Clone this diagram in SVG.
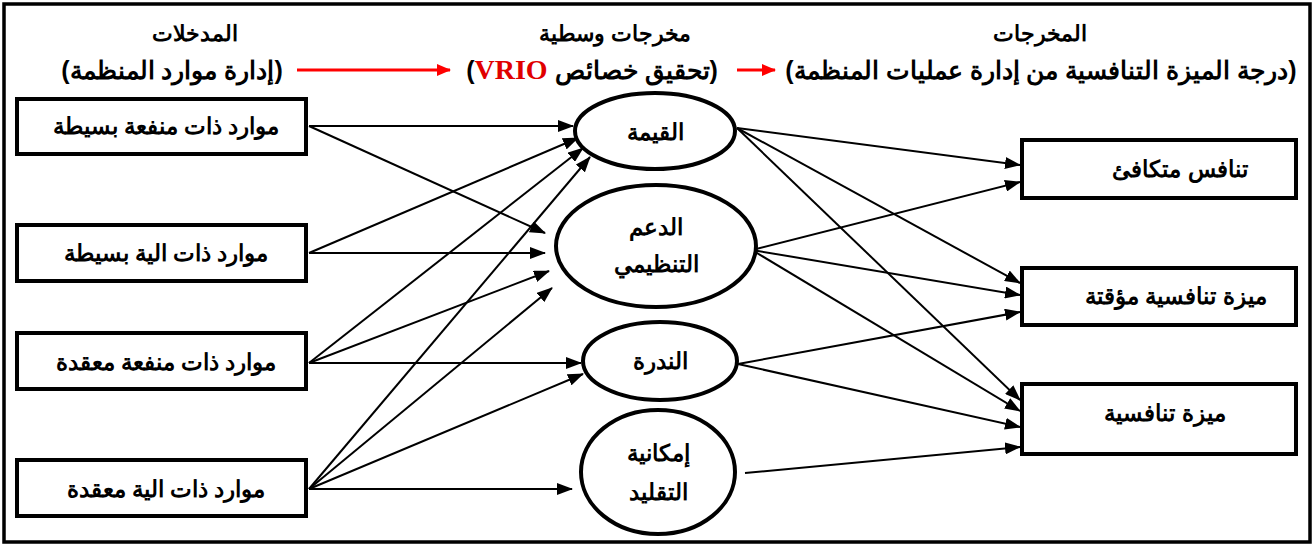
<svg xmlns="http://www.w3.org/2000/svg" width="1314" height="546" viewBox="0 0 1314 546">
<defs>
<style>
.frame{fill:#fff;stroke:#000;stroke-width:3.5}
.box{fill:#fff;stroke:#000;stroke-width:4}
.ell{fill:#fff;stroke:#000;stroke-width:4}
.t{font-family:"Liberation Sans",Arial,sans-serif;font-weight:bold;font-size:22.5px;fill:#000;text-anchor:middle;direction:rtl}
.h1{font-size:22px}
.h2{font-size:25px}
.vrio{font-family:"Liberation Serif","Times New Roman",serif;font-weight:bold;font-size:28px;fill:#e00000}
.c line{stroke:#000;stroke-width:2;marker-end:url(#ah)}
.r line{stroke:#f00;stroke-width:3;marker-end:url(#rh)}
</style>
<marker id="ah" markerUnits="userSpaceOnUse" markerWidth="16" markerHeight="12" refX="15" refY="6" orient="auto"><path d="M0,0 L16,6 L0,12 z" fill="#000"/></marker>
<marker id="rh" markerUnits="userSpaceOnUse" markerWidth="14" markerHeight="12" refX="13" refY="6" orient="auto"><path d="M0,0 L14,6 L0,12 z" fill="#f00"/></marker>
</defs>
<rect class="frame" x="4" y="4" width="1306" height="538"/>

<g id="headers">
<text class="t h1" x="195" y="41">المدخلات</text>
<text class="t h1" x="615" y="41">مخرجات وسطية</text>
<text class="t h1" x="1040" y="41">المخرجات</text>
<text class="t h2" x="172" y="79">(إدارة موارد المنظمة)</text>
<text class="t h2" x="592" y="79">(تحقيق خصائص <tspan class="vrio">VRIO</tspan>)</text>
<text class="t h2" x="1041" y="79">(درجة الميزة التنافسية من إدارة عمليات المنظمة)</text>
</g>
<g class="r" id="header-arrows">
<line x1="297" y1="70" x2="450" y2="70"/>
<line x1="737" y1="70" x2="775" y2="70"/>
</g>

<g class="c" id="connectors">
<line x1="309" y1="126" x2="573" y2="126"/>
<line x1="309" y1="126" x2="545" y2="233"/>
<line x1="309" y1="253" x2="578" y2="138"/>
<line x1="309" y1="253" x2="545" y2="253"/>
<line x1="309" y1="363" x2="583" y2="148"/>
<line x1="309" y1="363" x2="549" y2="271"/>
<line x1="309" y1="363" x2="581" y2="363"/>
<line x1="309" y1="489" x2="590" y2="157"/>
<line x1="309" y1="489" x2="552" y2="288"/>
<line x1="309" y1="489" x2="583" y2="374"/>
<line x1="309" y1="489" x2="572" y2="489"/>
<line x1="737" y1="128" x2="1020" y2="165"/>
<line x1="737" y1="128" x2="1020" y2="283"/>
<line x1="737" y1="128" x2="1020" y2="400"/>
<line x1="752" y1="250" x2="1020" y2="182"/>
<line x1="752" y1="250" x2="1020" y2="295"/>
<line x1="752" y1="250" x2="1020" y2="411"/>
<line x1="738" y1="364" x2="1020" y2="312"/>
<line x1="738" y1="364" x2="1020" y2="427"/>
<line x1="745" y1="473" x2="1020" y2="447"/>
</g>

<g id="in1"><rect class="box" x="17" y="99" width="289" height="55"/><text class="t" x="166" y="134">موارد ذات منفعة بسيطة</text></g>
<g id="in2"><rect class="box" x="17" y="225" width="289" height="56"/><text class="t" x="166" y="261">موارد ذات الية بسيطة</text></g>
<g id="in3"><rect class="box" x="17" y="333" width="289" height="56"/><text class="t" x="166" y="370">موارد ذات منفعة معقدة</text></g>
<g id="in4"><rect class="box" x="17" y="460" width="289" height="56"/><text class="t" x="166" y="497">موارد ذات الية معقدة</text></g>

<g id="value"><ellipse class="ell" cx="655" cy="131" rx="80" ry="38"/><text class="t" x="655" y="140">القيمة</text></g>
<g id="support"><ellipse class="ell" cx="656" cy="246" rx="100" ry="61"/><text class="t" x="656" y="235">الدعم</text><text class="t" x="656" y="272">التنظيمي</text></g>
<g id="rarity"><ellipse class="ell" cx="660" cy="361" rx="77" ry="39"/><text class="t" x="660" y="369">الندرة</text></g>
<g id="imitability"><ellipse class="ell" cx="658" cy="472" rx="77" ry="62"/><text class="t" x="658" y="461">إمكانية</text><text class="t" x="658" y="500">التقليد</text></g>

<g id="out1"><rect class="box" x="1022" y="140" width="274" height="58"/><text class="t" x="1180" y="177">تنافس متكافئ</text></g>
<g id="out2"><rect class="box" x="1022" y="268" width="274" height="57"/><text class="t" x="1176" y="304">ميزة تنافسية مؤقتة</text></g>
<g id="out3"><rect class="box" x="1022" y="384" width="274" height="70"/><text class="t" x="1165" y="421">ميزة تنافسية</text></g>
</svg>
